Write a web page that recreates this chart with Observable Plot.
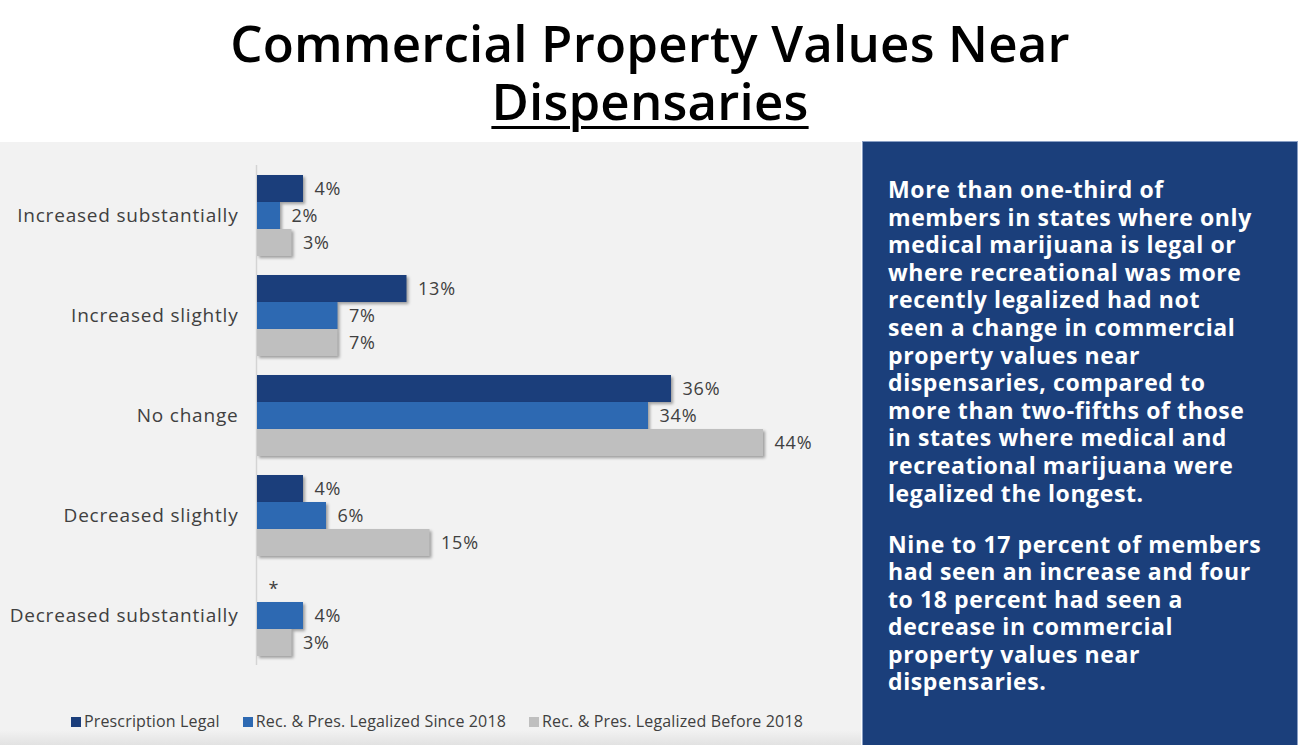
<!DOCTYPE html>
<html><head><meta charset="utf-8">
<script src="https://cdn.jsdelivr.net/npm/d3@7"></script>
<script src="https://cdn.jsdelivr.net/npm/@observablehq/plot@0.6"></script>
<style>
body{margin:0;width:1300px;height:745px;position:relative;overflow:hidden;background:#fff;font-family:"Open Sans",sans-serif}
#title{position:absolute;top:13px;left:0;width:1300px;text-align:center;font-size:51px;line-height:58px;font-weight:600;color:#000;letter-spacing:0.2px}
#title u{text-decoration-thickness:3px;text-underline-offset:6px}
#panel{position:absolute;left:0;top:142px;width:861px;height:603px;background:linear-gradient(to bottom,#f2f2f2 0,#f2f2f2 588px,#e2e2e2 603px)}
#chart{position:absolute;left:0;top:0}
#chart svg{display:block}
#side{position:absolute;left:862px;top:141px;width:436px;height:604px;background:#1b3f7b;border:1px solid #8a9fc4;border-bottom:none;box-sizing:border-box}
#sidetext{position:absolute;left:25px;top:34px;color:#fff;font-weight:700;font-size:23px;line-height:27.6px;letter-spacing:0.6px;white-space:nowrap}
#sidetext p{margin:0 0 23.4px 0}
#legend{position:absolute;left:71px;top:569px;font-size:16px;line-height:20px;letter-spacing:0.15px;color:#404040;display:flex;gap:23px;white-space:nowrap}
#legend span.sw{display:inline-block;width:10px;height:10px;margin-right:3px}
#chart svg g[aria-label="bar"] rect{filter:drop-shadow(2px 2px 1.5px rgba(0,0,0,0.35))}
</style></head>
<body>
<div id="title">Commercial Property Values Near<br><u>Dispensaries</u></div>
<div id="panel"><div id="chart"></div><div id="legend"></div></div>
<div id="side"><div id="sidetext"></div></div>
<script>
const categories = ["Increased substantially","Increased slightly","No change","Decreased slightly","Decreased substantially"];
const seriesNames = ["Prescription Legal","Rec. & Pres. Legalized Since 2018","Rec. & Pres. Legalized Before 2018"];
const prescriptionLegal = [4,13,36,4,null];
const recSince2018 = [2,7,34,6,4];
const recBefore2018 = [3,7,44,15,3];
const seriesColors = ["#1b3e7b","#2d69b2","#bfbfbf"];
const sideParagraphs = [
  ["More than one-third of","members in states where only","medical marijuana is legal or","where recreational was more","recently legalized had not","seen a change in commercial","property values near","dispensaries, compared to","more than two-fifths of those","in states where medical and","recreational marijuana were","legalized the longest."],
  ["Nine to 17 percent of members","had seen an increase and four","to 18 percent had seen a","decrease in commercial","property values near","dispensaries."]
];

const seriesValues = [prescriptionLegal, recSince2018, recBefore2018];
const rows = [];
categories.forEach((c, i) => {
  seriesNames.forEach((s, j) => {
    const v = seriesValues[j][i];
    rows.push({category: c, series: s, value: v, label: v == null ? "*" : v + "%"});
  });
});

const chart = Plot.plot({
  width: 861, height: 530,
  marginLeft: 257, marginRight: 29, marginTop: 32, marginBottom: 16,
  style: {background: "transparent", fontFamily: "Open Sans", fontSize: "19px", color: "#404040", letterSpacing: "0.8px", overflow: "visible"},
  x: {domain: [0, 50], axis: null},
  y: {domain: seriesNames, padding: 0, axis: null},
  fy: {domain: categories, range: [32, 514], paddingInner: 0.18, paddingOuter: 0, label: null, tickSize: 0, tickPadding: 19},
  color: {domain: seriesNames, range: seriesColors},
  facet: {data: rows, y: "category", marginTop: 32, marginBottom: 16},
  marks: [
    Plot.ruleX([0], {stroke: "#d4d4d4", strokeWidth: 1.5, dx: -1, insetTop: -9, insetBottom: -9}),
    Plot.barX(rows, {x: "value", y: "series", fill: "series", filter: d => d.value != null}),
    Plot.text(rows, {x: d => d.value ?? 0, y: "series", text: "label", dx: 11, textAnchor: "start", fontSize: 18, fill: "#404040"})
  ]
});
document.getElementById("chart").appendChild(chart);

const legend = document.getElementById("legend");
seriesNames.forEach((s, j) => {
  const item = document.createElement("div");
  const sw = document.createElement("span");
  sw.className = "sw"; sw.style.background = seriesColors[j];
  item.appendChild(sw);
  item.appendChild(document.createTextNode(s));
  legend.appendChild(item);
});

const side = document.getElementById("sidetext");
sideParagraphs.forEach(lines => {
  const p = document.createElement("p");
  p.innerHTML = lines.join("<br>");
  side.appendChild(p);
});
</script>
</body></html>
